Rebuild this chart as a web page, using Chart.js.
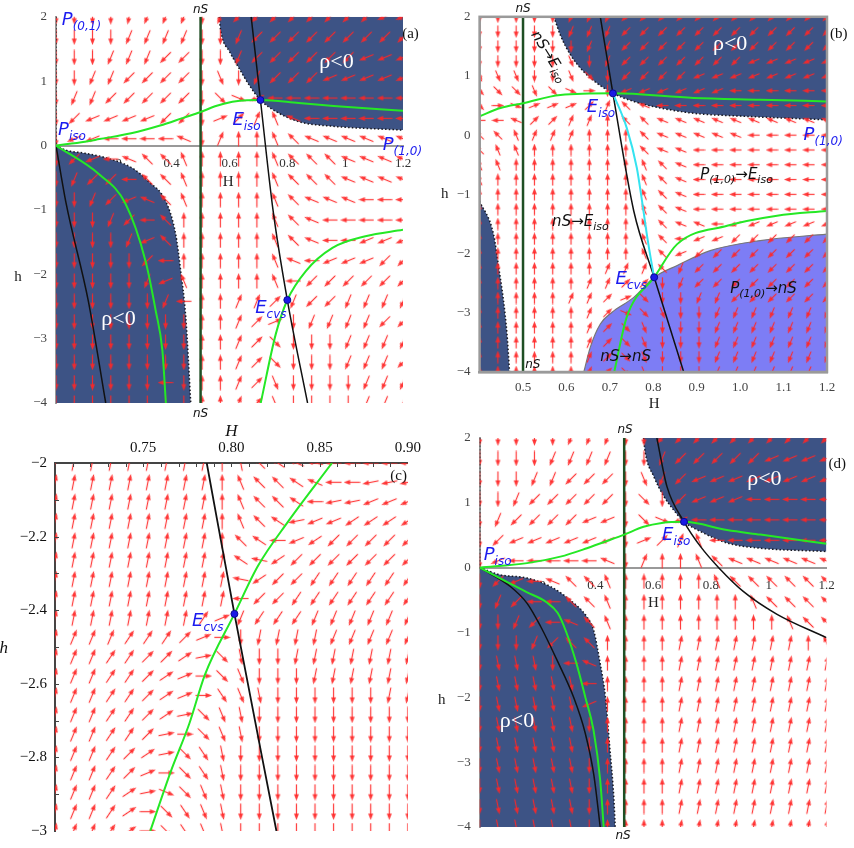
<!DOCTYPE html>
<html>
<head>
<meta charset="utf-8">
<script src="https://cdn.jsdelivr.net/npm/chart.js@4.4.1/dist/chart.umd.min.js"></script>
<style>
body { margin: 0; background: #fff; }
#wrap { position: relative; width: 854px; height: 848px; }
canvas { position: absolute; }
</style>
</head>
<body>
<div id="wrap">
<canvas id="pa" width="427" height="420" style="left:0;top:0"></canvas>
<canvas id="pb" width="427" height="420" style="left:427px;top:0"></canvas>
<canvas id="pc" width="427" height="428" style="left:0;top:420px"></canvas>
<canvas id="pd" width="427" height="428" style="left:427px;top:420px"></canvas>
</div>
<script>
// arrow headings: one char per arrow, 32 steps of 11.25 deg, counter-clockwise from +H
const HEADINGS = '0123456789abcdefghijklmnopqrstuv';

// arrow grids [first, last, count]
const gridA_H = [0, 1.2, 20], gridA_h = [2, -4, 20];
const gridB_H = [0.4, 1.2, 20], gridB_h = [2, -4, 25];
const gridC_H = [0.7, 0.9, 20], gridC_h = [-2, -3, 20];
const gridD_H = [0, 1.2, 20], gridD_h = [2, -4, 20];

// arrow directions, one string per row (top to bottom)
const fieldA = [
  'oooonmmmomkkkkkkkkii', 'oooommmmoomkkkkkkkkk', 'ooommmkkoomkkkkkkiii', 'oommkkkkoqomkkkiiiii',
  'ommkkkkkosuigggggggg', 'okiiiikko246aegggggg', 'oiiggggeo688aceeeeee', 'okigecca8888accceeee',
  'omkkgcca8888accceeee', 'oomkieca8888aceeeggg', 'ooomkgc88888aceggggg', 'oooomic88888aceggiii',
  'oooookg88888aegiiikk', 'ooooomia8888agkkkkkk', 'oooooomg88664mkkmmmm', 'oooooooo88642ommmmkk',
  'oooooooo8864sooommmm', 'oooooooo8864sooommmk', 'oooooogo8864qoooommm', 'oooooooo8864qoooommm'
];
const fieldB = [
  'ooooommmkkkkkkkkkkkk', 'ooooommmkkkkkkkkkkkk', 'oooooommkkkkkkkkkkkk', 'oooooqomkkkkkkkiiiii',
  'qqqooqsokkkkiiiiiiii', 'sssqsu0oiiiiiigggggg', 's0u22246cegggggggggg', 'gge44668cceeeeeeeeee',
  'cca666888ceeeeeggggg', 'caa888888ceegggggggg', 'aa8888888acegggggggg', 'a88888888acegggggggg',
  '888888888acegggggggg', '888888888acegggggggg', '888888888aceegiiiiii', '888888888acgiikkkkkk',
  '888888888acikkkkkkkk', '8888888666cmkkkkkkkk', '8888886644omkkkkkkkk', '888886642soommkkkkkk',
  '88888864usqoommmmmmm', '88888864sqooommmmmmm', '88888864sqooommmmmmm', '88888864sqooommmmmmm',
  '88888864sqooommmmmmm'
];
const fieldC = [
  '77777777789cdefggggg', '7777777778accdegghhh', '7777777778accdghhiii', '7777777778acdhiijjjj',
  '7777777778cdgijkkkkk', '7777777777dfjkkkkkkk', '7777777777fjkkllllll', '7777777777gkklllllll',
  '7777777752mlllmmmmmm', '7666555420onnnnmmmmm', '766554431spoonnnnnnn', '766554320sqooonnnnnn',
  '766554320rqpoooooonn', '76655431sqpooooooooo', '76655410sqpooooooooo', '7665431srpoooooooooo',
  '7665420srpoooooooooo', '766531usqpoooooooooo', '766530srqpoooooooooo', '766530srqpoooooooooo'
];
const fieldD = [
  'ooooommmookkkkkkkkkk', 'oooommmmoomkkkkkiiii', 'ooommkkkoqmkiiiiiiii', 'oomkkkkkosokiiiggggg',
  'omkkkkiiosuigggggggg', 'okiiiiiio246aggggggg', 'oigggggeo688aceeeeee', 'okigecca88888acccccc',
  'omkggcca8888888acccc', 'oomkgeca888888888acc', 'ooomkcc888877777778a', 'opppoge8888777777777',
  'opppppg8888777777777', 'opppppi8888777777777', 'opppppo8888777777777', 'opppppo8888777777777',
  'opppppo8888777777777', 'opppppo8888777777777', 'opppppo8888777777777', 'opppppo8888777777777'
];

// curves [H, h]
const aGreenIso = [[0,0],[0.1,0.06],[0.15,0.1],[0.26,0.19],[0.36,0.31],[0.44,0.43],[0.5,0.52],[0.55,0.61],[0.61,0.68],[0.66,0.705],[0.707,0.707],[0.84,0.66],[0.96,0.615],[1.2,0.54]];
const aGreenLow = [[0,0],[0.15,-0.45],[0.24,-0.9],[0.31,-1.8],[0.345,-2.57],[0.368,-3.19],[0.38,-4]];
const aGreenCvs = [[0.708,-4],[0.76,-2.93],[0.8,-2.4],[0.864,-1.95],[0.956,-1.59],[1.07,-1.41],[1.2,-1.31]];
const aBlackLeft = [[0,0],[0.035,-0.9],[0.112,-2.42],[0.172,-4]];
const aBlackRight = [[0.675,2],[0.707,0.707],[0.751,-1.02],[0.8,-2.4],[0.87,-4]];
const aRhoTop = [[0.564,2],[0.57,1.77],[0.6,1.46],[0.633,1.2],[0.668,0.94],[0.707,0.707],[0.76,0.53],[0.84,0.37],[0.956,0.3],[1.2,0.24]];
const aRhoLow = [[0,0],[0.033,-0.07],[0.1,-0.12],[0.18,-0.2],[0.264,-0.35],[0.32,-0.56],[0.38,-0.87],[0.414,-1.38],[0.43,-1.9],[0.449,-2.68],[0.466,-4]];
const aDots = [[0.707,0.707],[0.8,-2.4]];

const bGreenIso = [[0.4,0.32],[0.448,0.46],[0.5,0.54],[0.586,0.68],[0.707,0.707],[0.893,0.63],[1.046,0.6],[1.2,0.57]];
const bGreenCvs = [[0.71,-4],[0.739,-3.07],[0.802,-2.4],[0.855,-1.84],[0.97,-1.53],[1.085,-1.36],[1.2,-1.28]];
const bBlack = [[0.678,2],[0.707,0.707],[0.755,-1.28],[0.802,-2.4],[0.87,-4]];
const bCyan = [[0.707,0.707],[0.739,0.12],[0.762,-0.55],[0.774,-1.11],[0.785,-1.67],[0.795,-2.12],[0.802,-2.4]];
const bRhoTop = [[0.571,2],[0.586,1.69],[0.609,1.36],[0.64,1.07],[0.67,0.88],[0.707,0.707],[0.755,0.57],[0.816,0.46],[0.893,0.37],[1.008,0.32],[1.2,0.26]];
const bRhoLeft = [[0.4,-1.11],[0.432,-1.67],[0.444,-2.23],[0.455,-2.79],[0.463,-3.35],[0.469,-4]];
const bToNS = [[0.64,-4],[0.655,-3.58],[0.678,-3.19],[0.705,-2.99],[0.755,-2.74],[0.802,-2.4],[0.855,-2.2],[0.931,-1.95],[1.046,-1.78],[1.2,-1.67]];
const bDots = [[0.707,0.707],[0.802,-2.4]];

const cBlack = [[0.786,-2],[0.8017,-2.41],[0.8255,-3]];
const cGreen = [[0.754,-3],[0.7655,-2.84],[0.776,-2.71],[0.785,-2.575],[0.8017,-2.41],[0.815,-2.28],[0.832,-2.16],[0.857,-2]];
const cDots = [[0.8017,-2.41]];

const dGreenIso = [[0,0],[0.164,0.07],[0.279,0.17],[0.371,0.3],[0.452,0.43],[0.5,0.51],[0.567,0.63],[0.63,0.69],[0.707,0.707],[0.856,0.58],[0.971,0.51],[1.2,0.37]];
const dGreenLow = [[0,0],[0.094,-0.22],[0.164,-0.38],[0.23,-0.53],[0.27,-0.7],[0.3,-1.0],[0.335,-1.48],[0.365,-1.99],[0.394,-2.51],[0.417,-3.28],[0.429,-4]];
const dBlackLow = [[0,0],[0.106,-0.29],[0.164,-0.55],[0.21,-0.9],[0.27,-1.45],[0.325,-2.0],[0.365,-2.55],[0.395,-3.2],[0.417,-4]];
const dBlackTop = [[0.613,2],[0.648,1.25],[0.707,0.707],[0.765,0.32],[0.827,0],[0.913,-0.37],[1.029,-0.72],[1.2,-1.08]];
const dRhoTop = [[0.567,2],[0.573,1.77],[0.602,1.41],[0.637,1.1],[0.671,0.89],[0.707,0.707],[0.763,0.56],[0.856,0.38],[0.971,0.3],[1.2,0.25]];
const dRhoLow = [[0,0],[0.071,-0.11],[0.164,-0.16],[0.244,-0.29],[0.313,-0.5],[0.371,-0.76],[0.394,-0.96],[0.417,-1.48],[0.435,-1.99],[0.45,-2.77],[0.464,-3.54],[0.469,-4]];
const dDots = [[0.707,0.707]];

const nsLine = [[0.5,2],[0.5,-4]];
const leftEdge = [[0,2],[0,0]];

// tick labels
const xTicksA = [0.2, 0.4, 0.6, 0.8, 1, 1.2];
const yTicksA = [2, 1, 0, -1, -2, -3, -4];
const xTicksB = [0.5, 0.6, 0.7, 0.8, 0.9, 1.0, 1.1, 1.2];
const xTicksC = [0.75, 0.8, 0.85, 0.9];
const yTicksC = [-2, -2.2, -2.4, -2.6, -2.8, -3];

// text on the plots, placed in data units
const notesA = [
  {t: [['P',0],['(0,1)',1]], H: 0.02, h: 1.87, kind: 'blue'},
  {t: [['P',0],['iso',1]], H: 0.007, h: 0.17, kind: 'blue'},
  {t: [['E',0],['iso',1]], H: 0.61, h: 0.32, kind: 'blue'},
  {t: [['P',0],['(1,0)',1]], H: 1.13, h: -0.067, kind: 'blue'},
  {t: [['E',0],['cvs',1]], H: 0.689, h: -2.6, kind: 'blue'},
  {t: 'ρ<0', H: 0.97, h: 1.21, kind: 'rho'},
  {t: 'ρ<0', H: 0.216, h: -2.79, kind: 'rho'},
  {t: 'nS', H: 0.5, h: 2.06, kind: 'ns'},
  {t: 'nS', H: 0.5, h: -4.22, kind: 'ns'},
  {t: '(a)', H: 1.197, h: 1.67, kind: 'tag'},
  {t: 'H', H: 0.595, h: -0.636, kind: 'ax'},
  {t: 'h', H: -0.131, h: -2.11, kind: 'ax'}
];
const notesB = [
  {t: [['P',0],['(1,0)',1]], H: 1.146, h: -0.075, kind: 'blue'},
  {t: [['E',0],['iso',1]], H: 0.647, h: 0.4, kind: 'blue'},
  {t: [['E',0],['cvs',1]], H: 0.713, h: -2.51, kind: 'blue'},
  {t: 'ρ<0', H: 0.977, h: 1.44, kind: 'rho'},
  {t: 'nS', H: 0.5, h: 2.08, kind: 'ns'},
  {t: 'nS', H: 0.505, h: -3.94, kind: 'ns', align: 'left'},
  {t: [['nS→E',0],['iso',1]], H: 0.518, h: 1.7, kind: 'black', rot: 58},
  {t: [['P',0],['(1,0)',1],['→E',0],['iso',1]], H: 0.908, h: -0.74, kind: 'black'},
  {t: [['nS→E',0],['iso',1]], H: 0.567, h: -1.53, kind: 'black'},
  {t: [['P',0],['(1,0)',1],['→nS',0]], H: 0.977, h: -2.66, kind: 'black'},
  {t: 'nS→nS', H: 0.678, h: -3.82, kind: 'black'},
  {t: '(b)', H: 1.207, h: 1.65, kind: 'tag'},
  {t: 'H', H: 0.802, h: -4.61, kind: 'ax'},
  {t: 'h', H: 0.32, h: -1.06, kind: 'ax'}
];
const notesC = [
  {t: [['E',0],['cvs',1]], H: 0.7777, h: -2.443, kind: 'blue'},
  {t: '(c)', H: 0.89, h: -2.046, kind: 'tag'},
  {t: 'H', H: 0.8, h: -1.927, kind: 'axi'},
  {t: 'h', H: 0.671, h: -2.517, kind: 'axi'}
];
const notesD = [
  {t: [['P',0],['iso',1]], H: 0.014, h: 0.12, kind: 'blue'},
  {t: [['E',0],['iso',1]], H: 0.631, h: 0.43, kind: 'blue'},
  {t: 'ρ<0', H: 0.985, h: 1.28, kind: 'rho'},
  {t: 'ρ<0', H: 0.129, h: -2.46, kind: 'rho'},
  {t: 'nS', H: 0.503, h: 2.07, kind: 'ns'},
  {t: 'nS', H: 0.496, h: -4.18, kind: 'ns'},
  {t: '(d)', H: 1.207, h: 1.54, kind: 'tag'},
  {t: 'H', H: 0.601, h: -0.61, kind: 'ax'},
  {t: 'h', H: -0.131, h: -2.11, kind: 'ax'}
];

const SERIF = 'Liberation Serif';
const SANS = 'DejaVu Sans';
const DARK = '#3d5385';
const LIGHT = '#7d7df5';
const GREEN = '#25e825';
const NS = '#1f4f24';
const ARROW = 'rgba(255,38,38,0.9)';

const STYLES = {
  blue: {color: '#1b1bef', font: `italic 18px "${SANS}"`, sub: `italic 12px "${SANS}"`, dy: 5},
  black: {color: '#111', font: `italic 15px "${SANS}"`, sub: `italic 11px "${SANS}"`, dy: 4},
  rho: {color: '#fff', font: `22px "${SERIF}"`, align: 'center'},
  tag: {color: '#111', font: `15px "${SERIF}"`},
  ax: {color: '#222', font: `15px "${SERIF}"`, align: 'center'},
  axi: {color: '#111', font: `italic 17px "${SERIF}"`, align: 'center'},
  ns: {color: '#111', font: `italic 12px "${SANS}"`, align: 'center'}
};

function pts(arr) {
  return arr.map(p => ({x: p[0], y: p[1]}));
}

function arrowField(rows, gH, gh) {
  const out = [];
  rows.forEach((row, j) => {
    const h = gh[0] + (gh[1] - gh[0]) * j / (gh[2] - 1);
    for (let i = 0; i < row.length; i++) {
      const k = HEADINGS.indexOf(row[i]);
      if (k < 0) continue;
      out.push({x: gH[0] + (gH[1] - gH[0]) * i / (gH[2] - 1), y: h, a: k * 11.25});
    }
  });
  return out;
}

function arrowSprite(len) {
  const c = document.createElement('canvas');
  c.width = len;
  c.height = 7;
  const g = c.getContext('2d');
  g.strokeStyle = ARROW;
  g.fillStyle = ARROW;
  g.lineWidth = 1.2;
  g.beginPath(); g.moveTo(0.5, 3.5); g.lineTo(len - 5, 3.5); g.stroke();
  g.beginPath(); g.moveTo(len, 3.5); g.lineTo(len - 6.5, 0.9); g.lineTo(len - 6.5, 6.1); g.closePath(); g.fill();
  return c;
}

function region(data, side, color, dotted) {
  return {
    data: pts(data), fill: side, backgroundColor: color || DARK,
    borderColor: dotted === false ? '#777' : '#16161e', borderWidth: dotted === false ? 1.2 : 1.5,
    borderDash: dotted === false ? [] : [1.5, 2.2], pointRadius: 0,
    cubicInterpolationMode: 'monotone', order: 10
  };
}

function edge(data) {
  return {data: pts(data), fill: false, borderColor: '#333', borderWidth: 1.5, borderDash: [1.5, 2.2], pointRadius: 0, tension: 0, order: 3};
}

function curve(data, color, width) {
  return {data: pts(data), borderColor: color, borderWidth: width, pointRadius: 0, fill: false, cubicInterpolationMode: 'monotone', order: 2};
}

function straight(data, color, width) {
  return {data: pts(data), borderColor: color, borderWidth: width, pointRadius: 0, fill: false, tension: 0, order: 2};
}

function field(rows, gH, gh, len) {
  return {
    data: arrowField(rows, gH, gh), showLine: false, pointStyle: arrowSprite(len),
    pointRadius: 4, pointRotation: c => -c.raw.a, clip: 0, order: 5
  };
}

function dots(list) {
  return {data: pts(list), showLine: false, pointRadius: 3.5, pointBackgroundColor: '#1a1ae6', pointBorderColor: '#0a0a90', pointBorderWidth: 1, order: 0};
}

function fmtPlain(v) {
  return (v < 0 ? '\u2212' : '') + String(+Math.abs(v).toFixed(2));
}

function fixedTicks(list) {
  return s => { s.ticks = list.map(v => ({value: v})); };
}

function crossX(min, max, list) {
  return {
    type: 'linear', min, max, position: {y: 0}, z: 1, afterBuildTicks: fixedTicks(list),
    ticks: {font: {family: SERIF, size: 13}, color: '#333', padding: 10, maxRotation: 0, autoSkip: false, callback: fmtPlain},
    grid: {display: false, drawTicks: false}, border: {color: '#999', width: 2}
  };
}

function leftY(min, max, list, width, pad, size, color) {
  return {
    type: 'linear', min, max, position: 'left', afterBuildTicks: fixedTicks(list),
    afterFit: s => { s.width = width; },
    ticks: {font: {family: SERIF, size: size || 13}, color: color || '#444', padding: pad, autoSkip: false, callback: fmtPlain},
    grid: {display: false, drawTicks: false}, border: {color: color ? '#444' : '#999', width: 2}
  };
}

function drawNote(ctx, n, x, y) {
  const st = STYLES[n.kind];
  const segs = typeof n.t === 'string' ? [[n.t, 0]] : n.t;
  ctx.save();
  ctx.translate(x, y);
  if (n.rot) ctx.rotate(n.rot * Math.PI / 180);
  ctx.fillStyle = st.color;
  ctx.textBaseline = 'alphabetic';
  let w = 0;
  segs.forEach(s => { ctx.font = s[1] ? st.sub : st.font; w += ctx.measureText(s[0]).width; });
  let cx = (n.align || st.align) === 'center' ? -w / 2 : 0;
  segs.forEach(s => {
    ctx.font = s[1] ? st.sub : st.font;
    ctx.fillText(s[0], cx, s[1] ? st.dy : 0);
    cx += ctx.measureText(s[0]).width;
  });
  ctx.restore();
}

function decor(notes, extra) {
  return {
    id: 'decor',
    afterDatasetsDraw(chart) {
      const {ctx, scales: {x, y}} = chart;
      if (extra) extra(chart);
      notes.forEach(n => drawNote(ctx, n, x.getPixelForValue(n.H), y.getPixelForValue(n.h)));
    }
  };
}

function base(padding, scales) {
  return {
    responsive: false, animation: false, events: [],
    layout: {padding}, scales,
    plugins: {legend: {display: false}, tooltip: {enabled: false}}
  };
}

// (a)
new Chart(document.getElementById('pa'), {
  type: 'line',
  data: {datasets: [
    dots(aDots),
    curve(aGreenIso, GREEN, 2), curve(aGreenLow, GREEN, 2), curve(aGreenCvs, GREEN, 2),
    curve(aBlackLeft, '#111', 1.5), curve(aBlackRight, '#111', 1.5),
    straight(nsLine, NS, 2.5), edge(leftEdge),
    field(fieldA, gridA_H, gridA_h, 16),
    region(aRhoTop, 'end'), region(aRhoLow, 'start')
  ]},
  options: base({top: 15, right: 24, bottom: 17, left: 0}, {
    x: crossX(0, 1.2, xTicksA),
    y: leftY(-4, 2, yTicksA, 56, 9)
  }),
  plugins: [decor(notesA)]
});

// (b)
new Chart(document.getElementById('pb'), {
  type: 'line',
  data: {datasets: [
    dots(bDots),
    curve(bGreenIso, GREEN, 2), curve(bGreenCvs, GREEN, 2),
    curve(bCyan, '#35e3f0', 2), curve(bBlack, '#111', 1.5),
    straight(nsLine, NS, 2.5),
    field(fieldB, gridB_H, gridB_h, 13),
    region(bRhoTop, 'end'), region(bRhoLeft, 'start'), region(bToNS, 'start', LIGHT, false)
  ]},
  options: base({top: 15, right: 27, bottom: 0, left: 0}, {
    x: {
      type: 'linear', min: 0.4, max: 1.2, position: 'bottom', afterBuildTicks: fixedTicks(xTicksB),
      afterFit: s => { s.height = 48; },
      ticks: {font: {family: SERIF, size: 13}, color: '#444', padding: 8, maxRotation: 0, autoSkip: false, callback: v => v.toFixed(1)},
      grid: {display: false, drawTicks: false}, border: {color: '#9a9a9a', width: 2.5}
    },
    y: leftY(-4, 2, yTicksA, 52.6, 9)
  }),
  plugins: [decor(notesB, chart => {
    const {ctx, chartArea: a} = chart;
    ctx.save();
    ctx.strokeStyle = '#9a9a9a';
    ctx.lineWidth = 2.5;
    ctx.strokeRect(a.left, a.top, a.right - a.left, a.bottom - a.top);
    ctx.restore();
  })]
});

// (c)
new Chart(document.getElementById('pc'), {
  type: 'line',
  data: {datasets: [
    dots(cDots),
    curve(cGreen, GREEN, 2), curve(cBlack, '#111', 1.8),
    field(fieldC, gridC_H, gridC_h, 17)
  ]},
  options: base({top: 0, right: 17, bottom: 7, left: 0}, {
    x: {
      type: 'linear', min: 0.7, max: 0.9, position: 'top', afterBuildTicks: fixedTicks(xTicksC),
      afterFit: s => { s.height = 43; },
      ticks: {font: {family: SERIF, size: 15}, color: '#111', padding: 6, maxRotation: 0, autoSkip: false, callback: v => v.toFixed(2)},
      grid: {display: false, drawTicks: false}, border: {color: '#444', width: 2}
    },
    y: leftY(-3, -2, yTicksC, 55, 8, 15, '#111')
  }),
  plugins: [decor(notesC, chart => {
    const {ctx, chartArea: a, scales: {x, y}} = chart;
    ctx.save();
    ctx.strokeStyle = '#444';
    ctx.lineWidth = 1;
    ctx.beginPath();
    for (let k = 1; k < 20; k++) {
      const px = Math.round(x.getPixelForValue(0.7 + k * 0.01)) + 0.5;
      ctx.moveTo(px, a.top); ctx.lineTo(px, a.top + 4);
    }
    for (let k = 1; k < 10; k++) {
      const py = Math.round(y.getPixelForValue(-2 - k * 0.1)) + 0.5;
      ctx.moveTo(a.left, py); ctx.lineTo(a.left + 4, py);
    }
    ctx.stroke();
    ctx.restore();
  })]
});

// (d)
new Chart(document.getElementById('pd'), {
  type: 'line',
  data: {datasets: [
    dots(dDots),
    curve(dGreenIso, GREEN, 2), curve(dGreenLow, GREEN, 2),
    curve(dBlackLow, '#111', 1.5), curve(dBlackTop, '#111', 1.5),
    straight(nsLine, NS, 2.5), edge(leftEdge),
    field(fieldD, gridD_H, gridD_h, 16),
    region(dRhoTop, 'end'), region(dRhoLow, 'start')
  ]},
  options: base({top: 18, right: 27.5, bottom: 21, left: 0}, {
    x: crossX(0, 1.2, xTicksA),
    y: leftY(-4, 2, yTicksA, 52.7, 9)
  }),
  plugins: [decor(notesD)]
});
</script>
</body>
</html>
